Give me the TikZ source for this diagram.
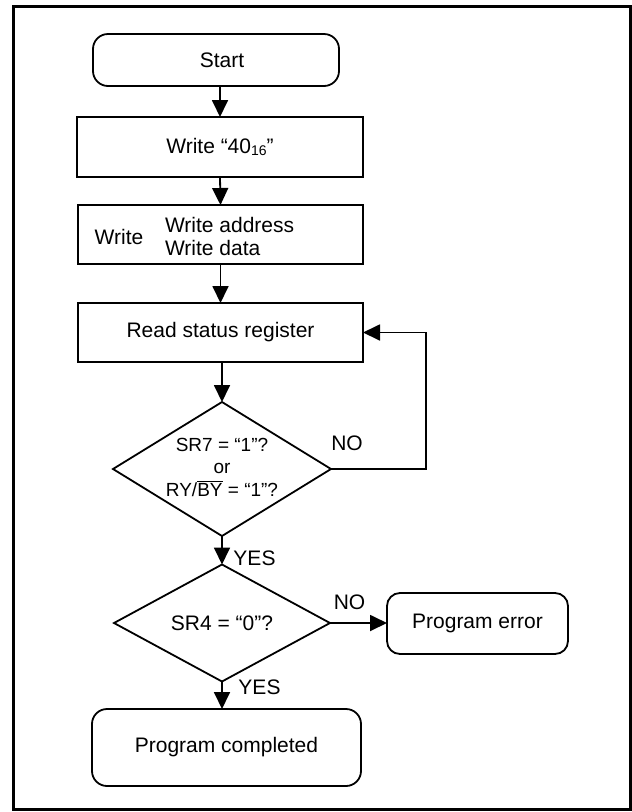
\documentclass[tikz,border=0pt]{standalone}
\usepackage{fontspec}
\setmainfont{Liberation Sans}
\usetikzlibrary{arrows.meta,shapes.geometric}
\begin{document}
\begin{tikzpicture}[x=1pt,y=-1pt,
  every node/.style={font=\fontsize{21}{23}\selectfont, inner sep=0pt, outer sep=0pt},
  box/.style={draw, line width=1.8pt, rectangle},
  term/.style={box, rounded corners=15pt},
  dec/.style={draw, line width=1.8pt, diamond, inner sep=0pt},
  flow/.style={line width=1.8pt, -{Triangle[width=16pt,length=17pt]}}]
\useasboundingbox (0,0) rectangle (632,812);
\draw[line width=3pt] (13,6) rectangle (630,809);
% nodes
\node[term, minimum width=246pt, minimum height=52pt] (start) at (216,60) {};
\node (starttxt) at (222,60) {Start};
\node[box, minimum width=286pt, minimum height=60pt] (w40) at (220,147)
  {Write “40\raisebox{-1.5pt}{\fontsize{14}{14}\selectfont 16}”};
\node[box, minimum width=285pt, minimum height=59pt] (wad) at (220.5,234.5) {};
\node (wleft) at (119,237) {Write};
\node[anchor=west, align=left, font=\fontsize{21}{23}\selectfont] (wright) at (165,236.5) {Write address\\Write data};
\node[box, minimum width=285pt, minimum height=59pt] (read) at (220.5,332.5) {Read status register};
\node[dec, minimum width=218pt, minimum height=134pt] (d1) at (222,469) {};
\node[align=center, font=\fontsize{19}{22.5}\selectfont] (d1txt) at (222,467)
  {SR7 = “1”?\\or\\RY/$\overline{\hbox{BY}}$ = “1”?};
\node[dec, minimum width=216pt, minimum height=96pt] (d2) at (222,623) {SR4 = “0”?};
\node[term, rounded corners=13pt, minimum width=181pt, minimum height=61pt] (err) at (477.5,623.5) {Program error};
\node[term, minimum width=269pt, minimum height=77pt] (done) at (226.5,747.5) {Program completed};
% labels
\node (no1) at (347,443) {NO};
\node (yes1) at (254.5,558) {YES};
\node (no2) at (349.5,602) {NO};
\node (yes2) at (259.5,687) {YES};
% connectors
\draw[flow] (w40.north |- start.south) -- (w40.north);
\draw[flow] (w40.south) -- (wad.north);
\draw[flow] (wad.south) -- (read.north);
\draw[flow] (read.south -| d1.north) -- (d1.north);
\coordinate (lp) at (426,469);
\draw[flow] (d1.east) -- (lp) |- (read.east);
\draw[flow] (d1.south) -- (d2.north);
\draw[flow] (d2.east) -- (d2.east -| err.west);
\draw[flow] (d2.south) -- (d2.south |- done.north);
\end{tikzpicture}
\end{document}
